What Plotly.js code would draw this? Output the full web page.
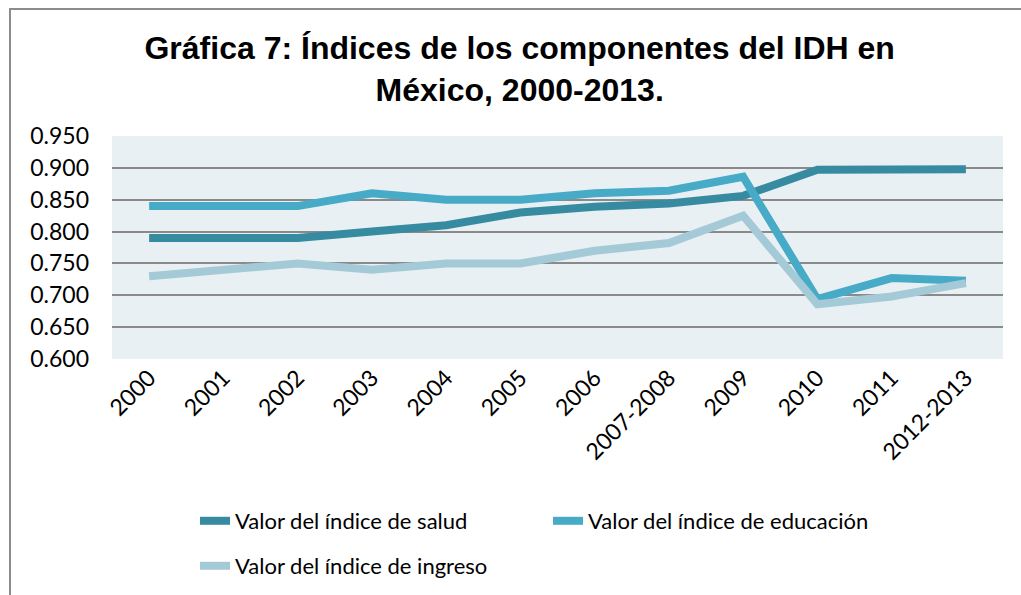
<!DOCTYPE html>
<html>
<head>
<meta charset="utf-8">
<script src="https://cdn.plot.ly/plotly-3.0.1.min.js"></script>
<style>
  html, body { margin: 0; padding: 0; background: #ffffff; overflow: hidden; }
  #wrap { position: relative; width: 1021px; height: 595px; }
  #chart { position: absolute; left: 0; top: 0; width: 1021px; height: 595px; }
  #frame { position: absolute; left: 9px; top: 8px; width: 1100px; height: 700px;
           border: 2px solid #8c8c8c; pointer-events: none; box-sizing: border-box; }
</style>
</head>
<body>
<div id="wrap">
  <div id="chart"></div>
  <div id="frame"></div>
</div>
<script>
const categories = ['2000', '2001', '2002', '2003', '2004', '2005', '2006', '2007-2008', '2009', '2010', '2011', '2012-2013'];
const salud     = [0.790, 0.790, 0.790, 0.800, 0.810, 0.830, 0.839, 0.844, 0.856, 0.897, 0.898, 0.898];
const educacion = [0.840, 0.840, 0.840, 0.860, 0.850, 0.850, 0.860, 0.864, 0.886, 0.694, 0.727, 0.723];
const ingreso   = [0.730, 0.740, 0.750, 0.740, 0.750, 0.750, 0.770, 0.782, 0.825, 0.686, 0.698, 0.719];
const seriesNames = ['Valor del índice de salud', 'Valor del índice de educación', 'Valor del índice de ingreso'];
const yTicks = [0.600, 0.650, 0.700, 0.750, 0.800, 0.850, 0.900, 0.950];

const colors = ['#378BA0', '#47AAC6', '#A5CAD7'];
const tickFont = { family: 'Lato, "Liberation Sans", sans-serif', size: 23, color: '#000000' };

function mk(y, i, legendId) {
  return {
    x: categories, y: y, name: seriesNames[i], type: 'scatter', mode: 'lines',
    line: { color: colors[i], width: 8 },
    legend: legendId
  };
}

const data = [
  mk(salud, 0, 'legend'),
  mk(educacion, 1, 'legend'),
  mk(ingreso, 2, 'legend2')
];

const legendFont = { family: 'Lato, "Liberation Sans", sans-serif', size: 22, color: '#000000' };

const layout = {
  width: 1021, height: 595,
  margin: { l: 112, r: 18, t: 136, b: 236 },
  paper_bgcolor: 'rgba(0,0,0,0)',
  plot_bgcolor: '#E8F0F4',
  title: {
    text: 'Gráfica 7: Índices de los componentes del IDH en<br>México, 2000-2013.',
    font: { family: '"Liberation Sans", Arial, sans-serif', size: 32, weight: 'bold', color: '#000000' },
    x: 0.509, xanchor: 'center', xref: 'container',
    y: 1 - 59 / 595, yanchor: 'top', yref: 'container'
  },
  xaxis: {
    type: 'category',
    range: [-0.5, categories.length - 0.5],
    tickvals: categories,
    ticktext: categories,
    tickangle: -45,
    tickfont: tickFont,
    showgrid: false,
    showline: false,
    ticks: '',
    automargin: false,
    fixedrange: true
  },
  yaxis: {
    range: [0.6, 0.95],
    tickvals: yTicks,
    tickformat: '.3f',
    tickfont: tickFont,
    showgrid: true,
    gridcolor: '#8a8a8a',
    gridwidth: 2,
    zeroline: false,
    showline: false,
    ticks: '',
    ticklabelstandoff: 22,
    automargin: false,
    fixedrange: true
  },
  showlegend: true,
  legend: {
    orientation: 'h',
    xref: 'container', yref: 'container',
    x: 0.191, xanchor: 'left',
    y: 1 - 521 / 595, yanchor: 'middle',
    entrywidth: 308,
    font: legendFont,
    bgcolor: 'rgba(0,0,0,0)'
  },
  legend2: {
    orientation: 'h',
    xref: 'container', yref: 'container',
    x: 0.191, xanchor: 'left',
    y: 1 - 566 / 595, yanchor: 'middle',
    font: legendFont,
    bgcolor: 'rgba(0,0,0,0)'
  }
};

Plotly.newPlot('chart', data, layout, { displayModeBar: false, staticPlot: true });
</script>
</body>
</html>
